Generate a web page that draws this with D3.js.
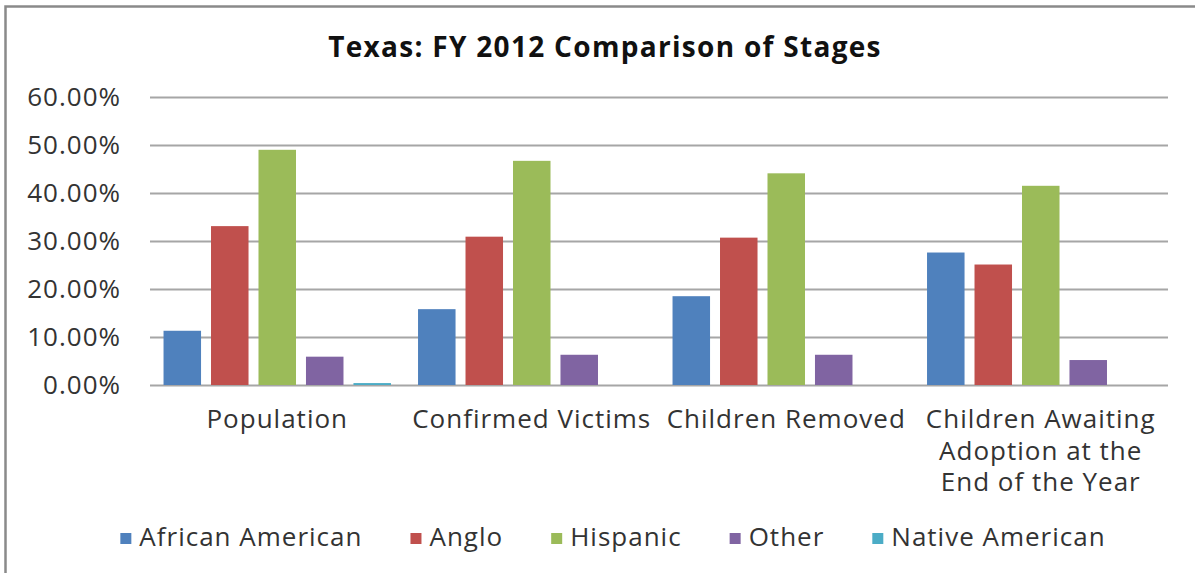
<!DOCTYPE html>
<html>
<head>
<meta charset="utf-8">
<script src="https://cdn.jsdelivr.net/npm/d3@7"></script>
<style>
  body { margin: 0; background: #fff; }
  svg { display: block; font-family: "Open Sans", sans-serif; }
</style>
</head>
<body>
<svg id="chart"></svg>
<script>
// data
const categories = ["Population", "Confirmed Victims", "Children Removed", "Children Awaiting\nAdoption at the\nEnd of the Year"];
const seriesNames = ["African American", "Anglo", "Hispanic", "Other", "Native American"];
const africanAmerican = [0.113, 0.158, 0.185, 0.276];
const anglo           = [0.331, 0.309, 0.307, 0.251];
const hispanic        = [0.490, 0.467, 0.441, 0.415];
const other           = [0.059, 0.063, 0.063, 0.052];
const nativeAmerican  = [0.004, 0, 0, 0];
const yTicks = [0, 0.1, 0.2, 0.3, 0.4, 0.5, 0.6];
const colors = ["#4f81bd", "#c0504d", "#9bbb59", "#8064a2", "#4bacc6"];

const seriesValues = [africanAmerican, anglo, hispanic, other, nativeAmerican];

const width = 1195, height = 573;
const margin = {top: 97, right: 27, bottom: 188, left: 150};
const innerW = width - margin.left - margin.right;
const innerH = height - margin.top - margin.bottom;

const svg = d3.select("#chart").attr("width", width).attr("height", height);

svg.append("rect").attr("width", width).attr("height", height).attr("fill", "#fff");

// chart border (only top/left visible in reference)
svg.append("rect")
    .attr("x", 5.5).attr("y", 6.5)
    .attr("width", width + 20).attr("height", height + 20)
    .attr("fill", "none")
    .attr("stroke", "#8a8a8a")
    .attr("stroke-width", 2.5);

svg.append("text")
    .attr("x", 605).attr("y", 57)
    .attr("text-anchor", "middle")
    .attr("font-size", "28px")
    .attr("font-weight", "bold")
    .attr("letter-spacing", "1.3px")
    .attr("fill", "#111")
    .text("Texas: FY 2012 Comparison of Stages");

const chart = svg.append("g").attr("transform", `translate(${margin.left}, ${margin.top})`);

const x0 = d3.scaleBand().domain(categories).range([0, innerW]).padding(0);
const x1 = d3.scaleBand().domain(seriesNames).range([0, x0.bandwidth()])
    .paddingInner(0.21).paddingOuter(0.285);
const y = d3.scaleLinear().domain([0, 0.6]).range([innerH, 0]);

// gridlines
const yaxis = d3.axisLeft(y).tickValues(yTicks).tickFormat(d3.format(".2%"))
    .tickSize(-innerW).tickPadding(29);
const yaxisGroup = chart.append("g").call(yaxis);
yaxisGroup.select(".domain").remove();
yaxisGroup.selectAll(".tick line").attr("stroke", "#a6a6a6").attr("stroke-width", 2);
yaxisGroup.selectAll(".tick text")
    .attr("font-family", "Open Sans, sans-serif")
    .attr("font-size", "26px")
    .attr("letter-spacing", "1px")
    .attr("fill", "#333");

// bars
const groups = chart.selectAll(".cat")
    .data(categories)
    .join("g")
    .attr("transform", d => `translate(${x0(d)}, 0)`);

groups.selectAll("rect")
    .data((c, i) => seriesNames.map((s, j) => ({series: s, value: seriesValues[j][i], color: colors[j]})))
    .join("rect")
    .attr("x", d => x1(d.series))
    .attr("y", d => y(d.value))
    .attr("width", x1.bandwidth())
    .attr("height", d => innerH - y(d.value))
    .attr("fill", d => d.color);

// category labels
const catLabels = chart.append("g").attr("transform", `translate(0, ${innerH})`);
categories.forEach(c => {
    const t = catLabels.append("text")
        .attr("x", x0(c) + x0.bandwidth() / 2)
        .attr("y", 43)
        .attr("text-anchor", "middle")
        .attr("font-size", "26px")
        .attr("letter-spacing", "1px")
        .attr("fill", "#333");
    c.split("\n").forEach((line, k) => {
        t.append("tspan")
            .attr("x", x0(c) + x0.bandwidth() / 2)
            .attr("dy", k === 0 ? 0 : 31.5)
            .text(line);
    });
});

// legend
const legend = svg.append("g");
const items = legend.selectAll("g")
    .data(seriesNames)
    .join("g");
items.append("rect")
    .attr("width", 11).attr("height", 11)
    .attr("y", -13)
    .attr("fill", (d, i) => colors[i]);
items.append("text")
    .attr("x", 19)
    .attr("font-size", "26px")
    .attr("letter-spacing", "1px")
    .attr("fill", "#333")
    .text(d => d);

let pos = 0;
const gap = 48;
items.each(function() {
    const w = this.getBBox().width;
    d3.select(this).attr("data-x", pos);
    pos += w + gap;
});
const total = pos - gap;
const startX = 613 - total / 2;
items.attr("transform", function() {
    return `translate(${startX + +d3.select(this).attr("data-x")}, 546)`;
});
</script>
</body>
</html>
